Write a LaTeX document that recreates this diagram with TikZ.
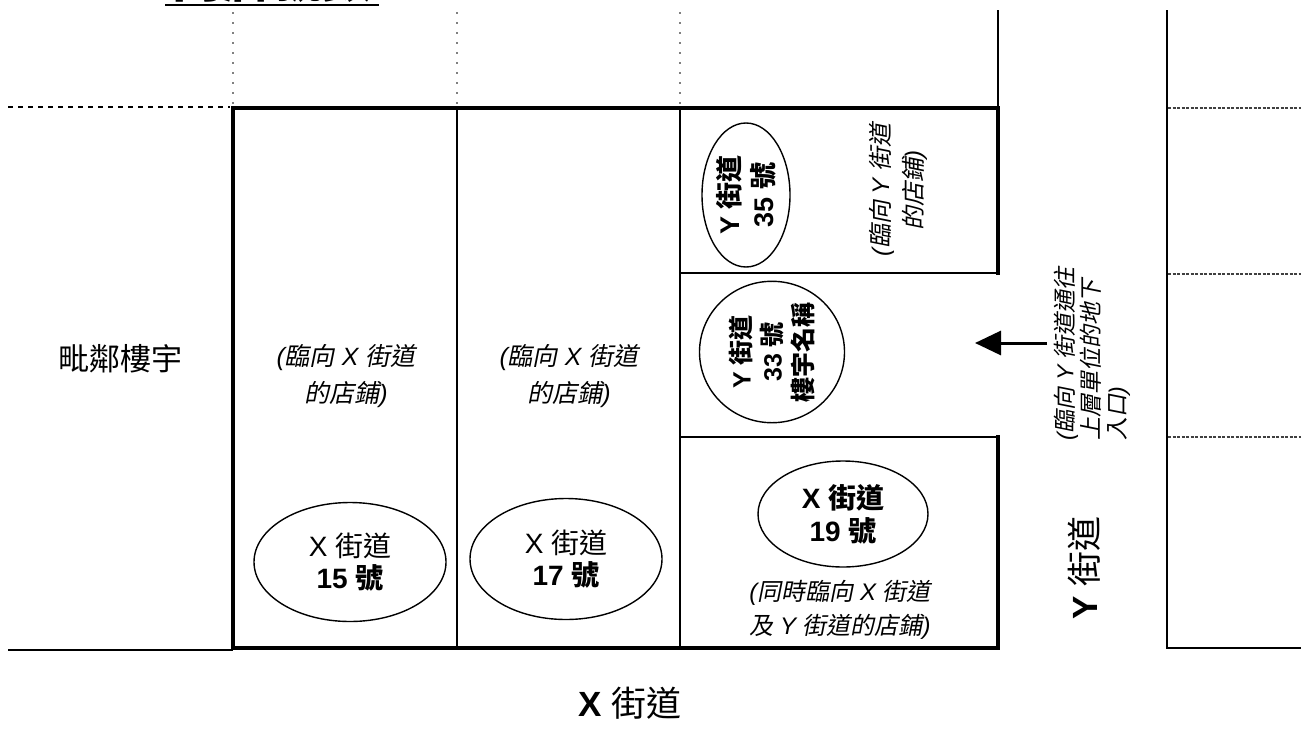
\documentclass[tikz,border=0pt]{standalone}
\usepackage{fontspec}
\setmainfont{Liberation Sans}
\newfontfamily\cjk{Noto Sans CJK TC}
\newfontfamily\cjki[FakeSlant=0.2]{Noto Sans CJK TC}
\newcommand\zh[1]{{\cjk #1}}
\newcommand\zb[1]{{\cjk\bfseries #1}}
\newcommand\zi[1]{{\cjki\upshape #1}}
\usetikzlibrary{shapes.geometric,arrows.meta}
\begin{document}
\begin{tikzpicture}[x=1pt,y=-1pt,
  wall/.style={line width=4.5pt, line cap=rect, line join=miter},
  part/.style={line width=2pt},
  edge/.style={line width=1.6pt},
  gdot/.style={gray, line width=1.5pt, dash pattern=on 1.5pt off 8.5pt},
  bdash/.style={line width=2.5pt, dash pattern=on 5pt off 5pt},
  rdash/.style={black!75, line width=1.5pt, dash pattern=on 3pt off 1.5pt},
  shop/.style={ellipse, draw, line width=1.4pt, inner sep=0pt, align=center},
  lbl/.style={inner sep=0pt, align=center}]
\useasboundingbox (0,0) rectangle (1301,731);

% title (cut off at top, as in the reference)
\node[anchor=base, inner sep=0pt, font={\fontsize{50}{50}\selectfont}] (title) at (272,-3) {\zb{門牌號數}};
\draw[line width=2pt] (165,5) -- (379,5);

% dotted boundaries at the top
\draw[gdot] (233,12) -- (233,106);
\draw[gdot] (457,12) -- (457,106);
\draw[gdot] (680,12) -- (680,106);
\draw[bdash] (8,107) -- (230,107);

% adjoining lines
\draw[edge] (998,10) -- (998,108);
\draw[edge] (1167,10) -- (1167,648) -- (1301,648);
\draw[edge] (8,650) -- (233,650);
\draw[rdash] (1168,108) -- (1301,108);
\draw[rdash] (1168,274) -- (1301,274);
\draw[rdash] (1168,437) -- (1301,437);

% inner partitions
\draw[part] (457,108) -- (457,648);
\draw[part] (680,108) -- (680,648);
\draw[part] (680,273) -- (998,273);
\draw[part] (680,437) -- (998,437);

% outer wall of the building
\draw[wall] (998,273) -- (998,108) -- (233,108) -- (233,648) -- (998,648) -- (998,437);

% shops
\node[shop, minimum width=192pt, minimum height=119pt, font={\fontsize{28}{32}\selectfont}] (n15) at (350,562)
  {X \zh{街道}\\ \textbf{15} \zb{號}};
\node[shop, minimum width=192pt, minimum height=121pt, font={\fontsize{28}{32}\selectfont}] (n17) at (566,559)
  {X \zh{街道}\\ \textbf{17} \zb{號}};
\node[shop, minimum width=170pt, minimum height=106pt, font={\fontsize{28}{33}\selectfont\bfseries}] (n19) at (843,514)
  {X \zb{街道}\\ 19 \zb{號}};
\node[shop, minimum width=144pt, minimum height=88pt, rotate=90, font={\fontsize{27}{34}\selectfont\bfseries}] (n35) at (746,195)
  {Y \zb{街道}\\ 35 \zb{號}};
\node[shop, minimum width=141pt, minimum height=145pt, rotate=90, font={\fontsize{25}{31}\selectfont\bfseries}] (n33) at (772,352)
  {Y \zb{街道}\\ 33 \zb{號}\\ \zb{樓宇名稱}};

% labels
\node[lbl, font={\fontsize{31}{36}\selectfont}] (adj) at (120,359) {\zh{毗鄰樓宇}};
\node[lbl, font={\fontsize{25}{37}\selectfont\itshape}] (f15) at (346,376) {(\zi{臨向} X \zi{街道}\\ \zi{的店鋪})};
\node[lbl, font={\fontsize{25}{37}\selectfont\itshape}] (f17) at (569,376) {(\zi{臨向} X \zi{街道}\\ \zi{的店鋪})};
\node[lbl, rotate=90, font={\fontsize{24}{33}\selectfont\itshape}] (f35) at (898,190) {(\zi{臨向} Y \zi{街道}\\ \zi{的店鋪})};
\node[lbl, font={\fontsize{24}{34}\selectfont\itshape}] (f19) at (840,610) {(\zi{同時臨向} X \zi{街道}\\ \zi{及} Y \zi{街道的店鋪})};
\node[lbl, rotate=90, anchor=west, align=left, font={\fontsize{23}{26}\selectfont\itshape}] (ent) at (1092,441)
  {(\zi{臨向} Y \zi{街道通往}\\ \zi{上層單位的地下}\\ \zi{入口})};
\node[lbl, rotate=90, font={\fontsize{35}{40}\selectfont}] (ystreet) at (1084,568) {\textbf{Y} \zh{街道}};
\node[lbl, font={\fontsize{35}{40}\selectfont}] (xstreet) at (630,703) {\textbf{X} \zh{街道}};

% arrow to the entrance
\coordinate (arrS) at (1047,343);
\coordinate (arrE) at (975,343);
\draw[line width=3pt, -{Triangle[length=26pt,width=24pt]}] (arrS) -- (arrE);
\end{tikzpicture}
\end{document}
